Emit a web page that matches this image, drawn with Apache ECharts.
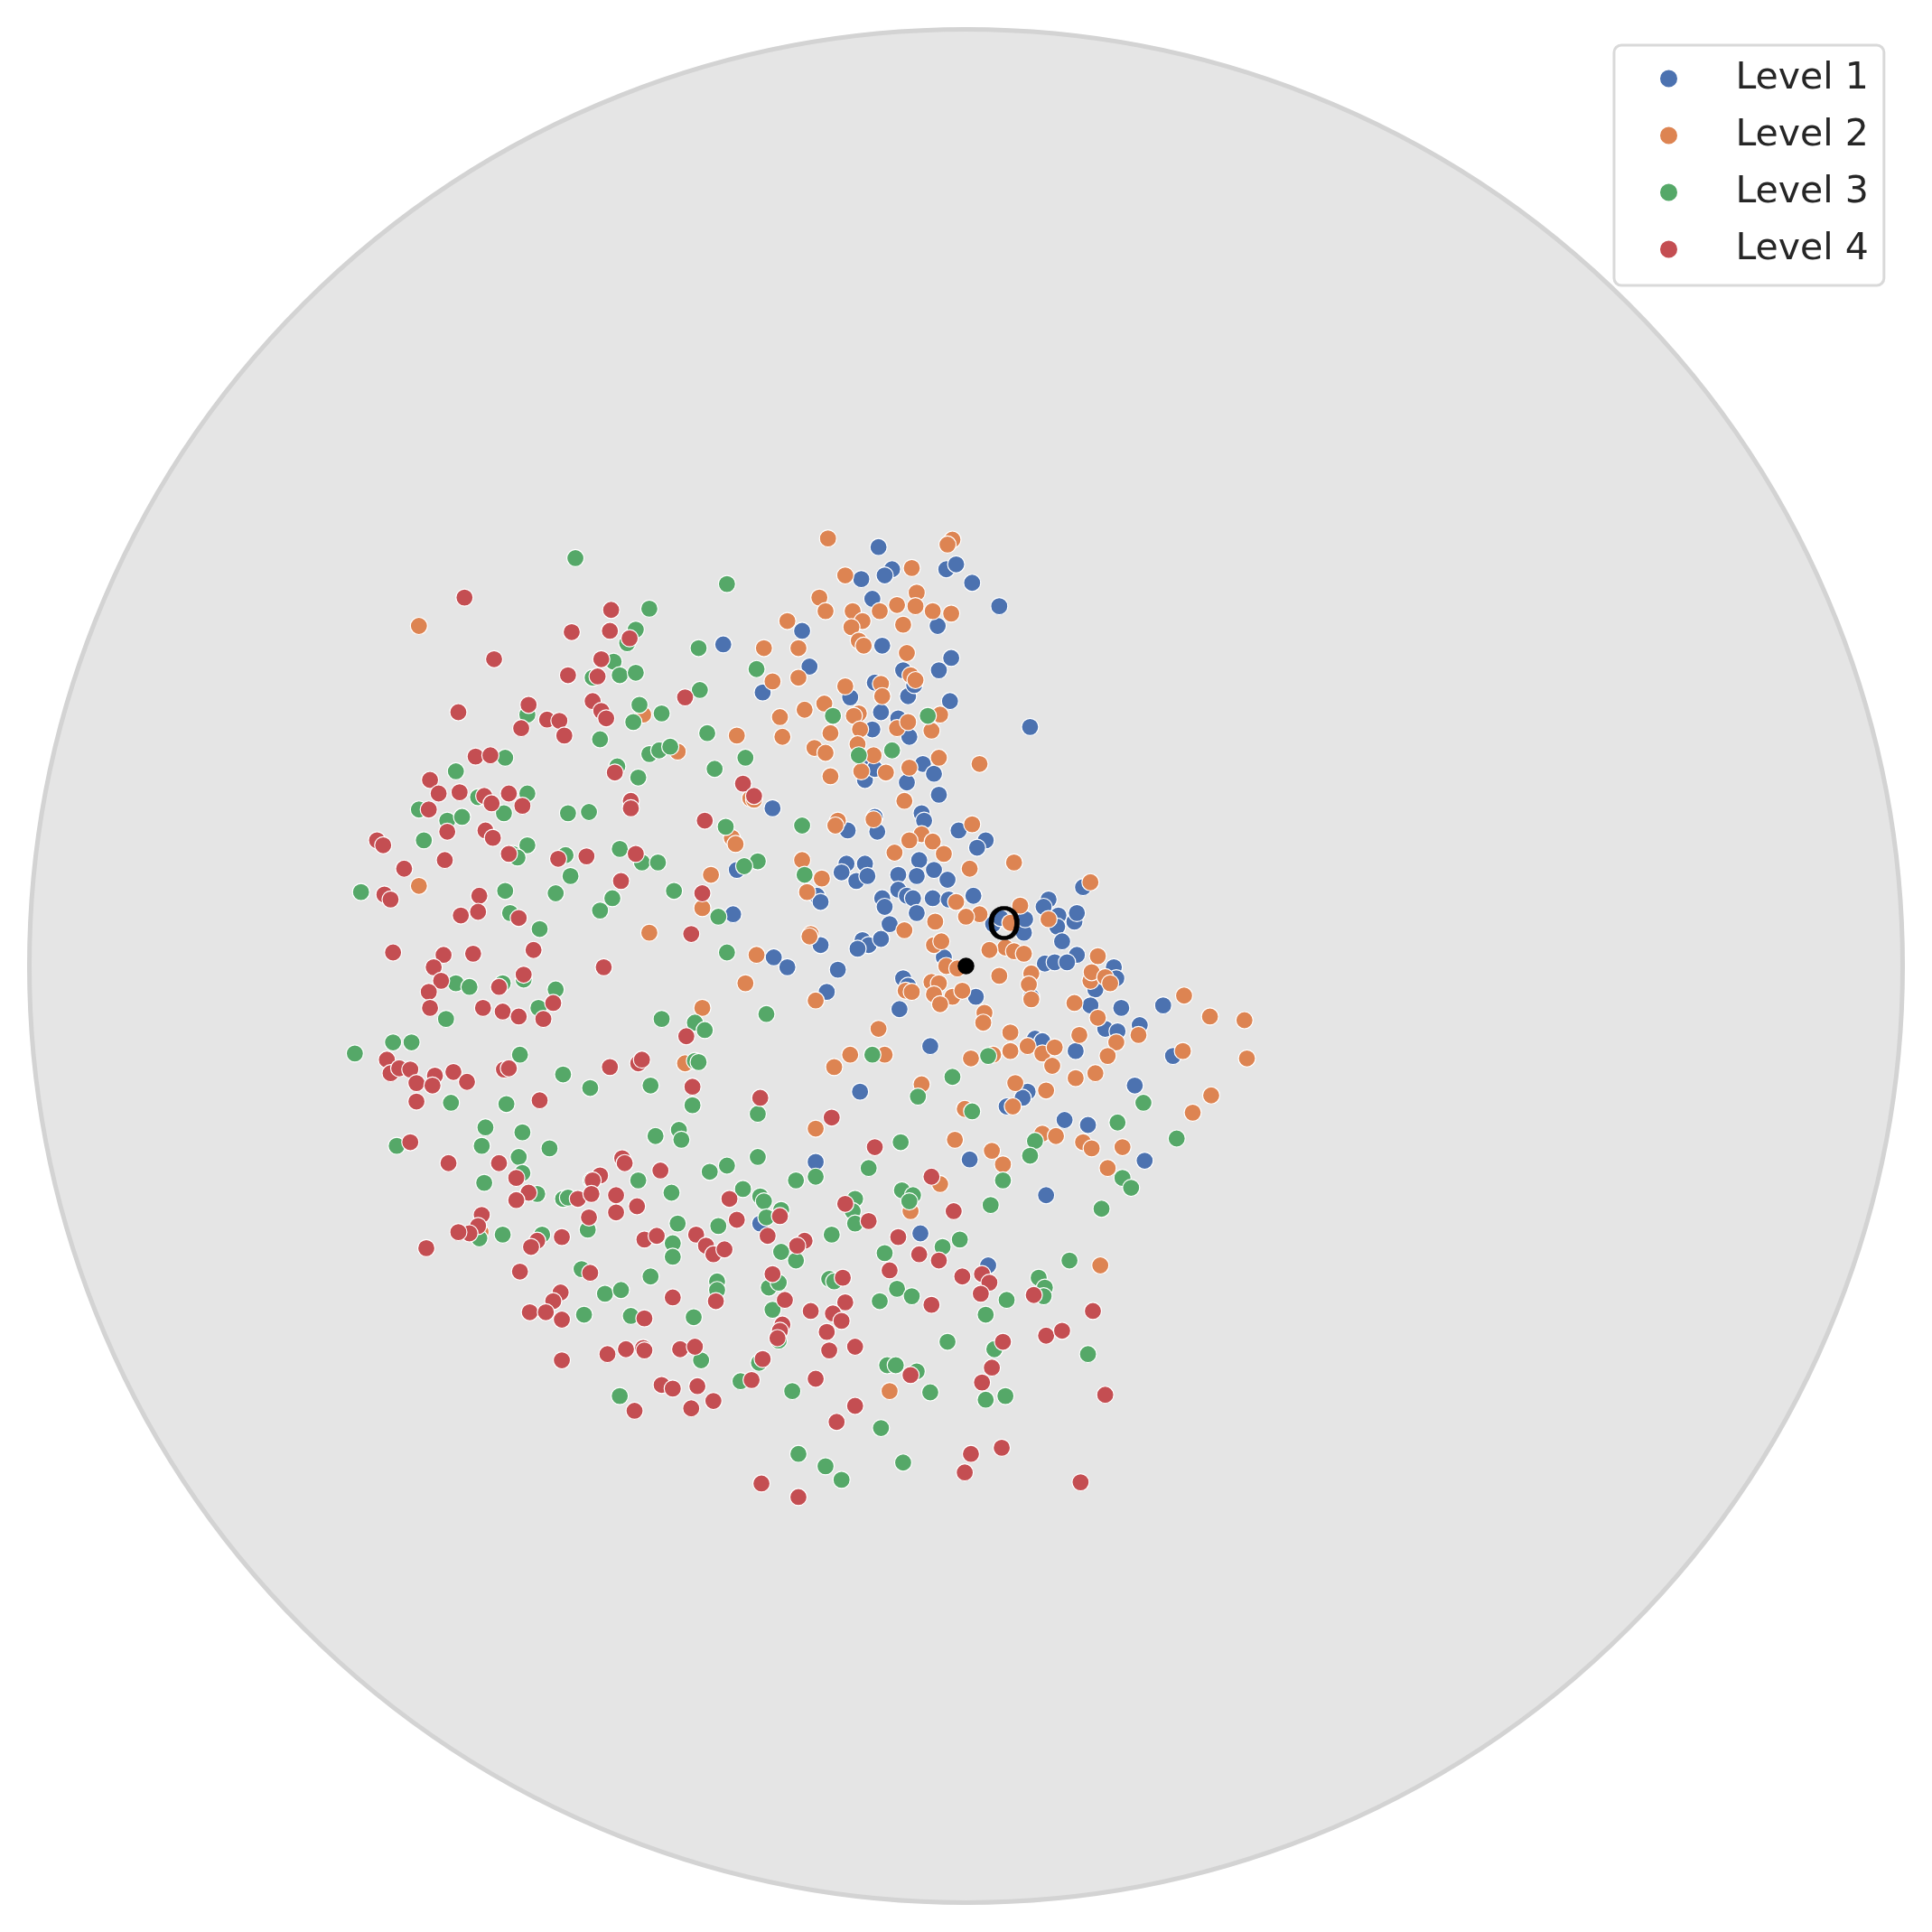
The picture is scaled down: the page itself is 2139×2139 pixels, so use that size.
<!DOCTYPE html>
<html><head><meta charset="utf-8">
<style>html,body{margin:0;padding:0;background:#fff}#c{width:2139px;height:2139px}</style>
<script src="https://cdn.jsdelivr.net/npm/echarts@6/dist/echarts.min.js"></script>
</head><body><div id="c"></div>
<script>
const levelNames = ['Level 1','Level 2','Level 3','Level 4'];
const levelColors = ['#4c72b0','#dd8452','#55a868','#c44e52'];
const level1 = [[713,444],[724,462],[718,467],[699,470],[768,462],[776,458],[789,473],[811,492],[708,486],[651,512],[761,508],[587,523],[716,524],[772,534],[762,544],[657,541],[733,544],[710,554],[619,562],[690,566],[737,565],[771,569],[742,556],[715,578],[729,583],[836,590],[708,592],[738,598],[749,620],[702,633],[736,635],[758,628],[704,622],[710,624],[762,645],[627,656],[748,660],[750,666],[710,663],[712,675],[688,674],[778,674],[800,682],[793,688],[687,701],[702,701],[683,708],[695,715],[704,711],[729,710],[746,698],[744,711],[758,706],[769,714],[598,706],[729,722],[736,727],[716,729],[741,729],[757,729],[770,730],[663,727],[666,732],[718,736],[744,741],[790,727],[595,742],[722,750],[700,763],[705,767],[715,762],[696,770],[666,767],[628,777],[639,785],[680,787],[671,805],[730,819],[733,794],[737,800],[766,777],[792,809],[755,849],[698,886],[851,730],[879,720],[847,736],[859,743],[872,748],[874,741],[858,752],[831,757],[832,746],[806,750],[812,745],[862,764],[874,775],[848,782],[856,781],[866,781],[904,785],[906,794],[889,803],[885,816],[910,818],[897,835],[907,837],[925,832],[944,816],[952,857],[873,853],[921,881],[840,843],[846,845],[837,809],[834,886],[830,891],[817,898],[864,909],[883,913],[787,941],[662,943],[929,942],[849,970],[617,993],[747,1001],[802,1027]];
const level2 = [[672,437],[773,438],[769,442],[686,467],[740,461],[665,485],[692,496],[670,496],[700,504],[691,509],[639,504],[714,496],[728,491],[744,481],[743,492],[757,496],[772,498],[733,507],[340,508],[620,526],[648,526],[697,520],[701,524],[736,530],[627,553],[648,550],[686,557],[739,548],[715,555],[743,552],[716,565],[669,571],[653,576],[697,579],[633,582],[693,581],[698,592],[728,591],[737,586],[763,580],[756,593],[674,595],[635,598],[598,597],[661,607],[670,611],[550,610],[696,604],[709,613],[762,615],[795,620],[738,623],[719,627],[699,626],[674,630],[734,650],[609,648],[612,649],[680,666],[709,665],[789,669],[678,670],[748,677],[738,682],[757,683],[594,680],[597,685],[726,692],[766,693],[651,698],[823,700],[787,705],[577,710],[667,713],[655,724],[340,719],[885,716],[570,737],[776,732],[828,735],[795,742],[784,744],[759,748],[851,746],[820,749],[527,757],[658,758],[657,760],[734,755],[816,769],[758,767],[764,764],[803,771],[823,772],[831,774],[891,776],[768,784],[777,786],[885,796],[886,789],[897,793],[901,798],[614,775],[605,798],[811,792],[837,790],[835,799],[837,811],[735,804],[740,805],[756,797],[762,798],[758,807],[773,809],[781,804],[763,815],[799,822],[798,830],[662,812],[872,814],[891,826],[961,808],[982,825],[1010,828],[570,818],[713,835],[820,838],[876,840],[906,846],[924,840],[690,856],[718,856],[677,866],[788,859],[806,856],[820,853],[834,849],[846,855],[856,850],[899,857],[960,853],[1012,859],[556,863],[854,865],[873,875],[889,871],[748,880],[824,879],[849,885],[983,889],[968,903],[783,900],[822,898],[662,916],[775,925],[846,920],[857,922],[879,927],[886,932],[911,931],[805,934],[814,945],[899,948],[763,961],[739,983],[390,1000],[893,1027],[722,1129],[522,580]];
const level3 = [[467,453],[590,474],[527,494],[516,511],[509,522],[567,526],[498,537],[503,548],[516,546],[614,543],[568,560],[481,550],[519,572],[428,580],[514,586],[537,579],[676,581],[753,581],[574,595],[487,600],[527,612],[535,609],[544,606],[605,615],[410,615],[580,624],[697,613],[724,609],[501,622],[518,631],[370,626],[388,647],[428,644],[340,657],[409,660],[461,660],[478,659],[363,666],[375,663],[589,671],[651,670],[344,682],[428,686],[416,693],[420,696],[503,689],[459,694],[521,700],[534,700],[615,699],[604,703],[463,711],[653,710],[293,724],[410,723],[451,725],[547,723],[497,729],[487,739],[414,741],[438,754],[583,744],[590,773],[370,798],[381,801],[408,798],[425,795],[451,803],[437,818],[362,827],[537,827],[564,830],[572,836],[622,823],[319,846],[334,846],[288,855],[422,856],[564,861],[567,862],[708,856],[802,857],[457,872],[479,883],[528,881],[366,895],[411,896],[773,874],[745,890],[789,902],[928,895],[907,911],[955,924],[394,915],[424,919],[322,930],[391,930],[446,932],[532,922],[551,917],[553,925],[562,897],[615,904],[731,927],[840,926],[836,938],[421,939],[424,952],[393,960],[457,973],[461,972],[480,958],[518,958],[545,968],[436,969],[576,951],[590,946],[615,939],[705,948],[646,958],[662,955],[603,965],[617,971],[620,975],[634,982],[622,988],[694,973],[692,983],[694,993],[732,966],[741,970],[738,975],[804,978],[814,958],[911,956],[918,964],[894,981],[550,993],[583,995],[546,1009],[477,998],[408,1002],[389,1005],[440,1002],[546,1020],[675,1002],[634,1016],[646,1023],[718,1017],[765,1012],[779,1006],[868,1023],[843,1037],[848,1045],[847,1052],[817,1055],[800,1067],[472,1030],[528,1036],[491,1050],[504,1047],[474,1067],[512,1068],[563,1069],[582,1040],[582,1047],[624,1045],[632,1041],[627,1063],[673,1038],[677,1040],[714,1056],[728,1046],[740,1052],[632,1088],[569,1104],[616,1106],[601,1121],[503,1133],[643,1129],[769,1089],[807,1095],[883,1099],[720,1108],[727,1108],[744,1113],[755,1130],[800,1136],[816,1133],[715,1159],[648,1180],[670,1190],[683,1201],[733,1187]];
const level4 = [[377,485],[496,495],[495,512],[464,513],[511,518],[401,535],[488,535],[461,548],[485,549],[556,566],[429,572],[372,578],[481,569],[488,577],[492,583],[444,584],[454,585],[423,591],[458,597],[386,614],[398,613],[499,627],[349,633],[603,636],[373,643],[356,644],[393,646],[413,644],[612,646],[348,657],[399,652],[424,654],[512,650],[512,656],[572,666],[363,675],[394,674],[400,680],[306,682],[311,686],[413,693],[361,698],[453,697],[476,695],[516,693],[328,705],[504,715],[312,726],[317,730],[570,725],[389,727],[374,743],[388,740],[421,745],[561,758],[319,773],[360,775],[384,774],[433,771],[352,785],[358,796],[490,785],[425,791],[405,801],[348,805],[349,818],[392,818],[408,821],[421,825],[449,814],[441,827],[557,841],[314,860],[317,871],[324,867],[333,868],[353,873],[368,870],[338,879],[351,881],[379,878],[409,868],[413,867],[495,866],[518,863],[521,860],[338,894],[438,893],[562,882],[617,891],[675,907],[333,927],[710,931],[364,944],[405,944],[505,940],[507,944],[536,950],[487,954],[481,958],[419,956],[756,955],[429,968],[419,974],[469,973],[480,969],[500,970],[500,984],[478,988],[517,979],[592,973],[686,977],[633,987],[598,990],[705,991],[774,983],[391,986],[388,995],[381,1001],[372,1000],[436,1007],[431,1012],[456,1004],[523,1006],[533,1003],[565,1002],[623,1003],[653,1007],[647,1011],[573,1011],[579,1018],[588,1014],[729,1004],[746,1018],[346,1013],[422,1032],[479,1033],[762,1023],[722,1031],[627,1034],[684,1037],[781,1036],[797,1034],[803,1041],[796,1050],[839,1051],[455,1049],[449,1056],[546,1053],[581,1056],[430,1065],[443,1065],[456,1071],[523,1070],[637,1055],[658,1064],[686,1057],[676,1066],[683,1072],[756,1059],[887,1064],[635,1075],[633,1080],[631,1086],[671,1081],[849,1084],[862,1080],[814,1089],[522,1094],[456,1104],[493,1099],[508,1095],[523,1096],[552,1095],[564,1093],[619,1103],[694,1093],[673,1096],[805,1110],[739,1116],[662,1119],[610,1120],[797,1122],[537,1124],[546,1127],[566,1125],[579,1137],[515,1145],[561,1143],[694,1141],[897,1132],[679,1154],[788,1180],[813,1175],[783,1195],[877,1203],[618,1204],[648,1215]];
const levels = [level1, level2, level3, level4];
const diskCenter = [[784,784]];
const originPoint = [[784,784]];
const labelPoint = [[815,752.5]];
const labelText = 'O';

const chart = echarts.init(document.getElementById('c'), null, {renderer:'canvas', width:2139, height:2139});
const series = [
  {name:'disk', type:'scatter', silent:true, z:1, data:diskCenter, symbol:'circle', symbolSize:2074,
   itemStyle:{color:'#e5e5e5', borderColor:'#d3d3d3', borderWidth:5, opacity:1}}
];
levelNames.forEach((n,i)=>series.push({
  name:n, type:'scatter', z:2+i, data:levels[i], symbol:'circle', symbolSize:19,
  itemStyle:{color:levelColors[i], borderColor:'#ffffff', borderWidth:1.2, opacity:1}
}));
series.push({name:'origin', type:'scatter', z:8, data:originPoint, symbol:'circle', symbolSize:18.5,
  itemStyle:{color:'#000000', opacity:1}});
series.push({name:'label', type:'scatter', z:9, data:labelPoint, symbol:'circle', symbolSize:1,
  itemStyle:{color:'rgba(0,0,0,0)', opacity:1},
  label:{show:true, position:'inside', formatter:labelText, fontFamily:'DejaVu Sans', fontSize:50, color:'#000', opacity:1, textBorderColor:'#000', textBorderWidth:0.6}});
chart.setOption({
  animation:false,
  backgroundColor:'#ffffff',
  grid:{left:0,right:0,top:0,bottom:0},
  xAxis:{type:'value',min:0,max:1568,show:false},
  yAxis:{type:'value',min:0,max:1568,inverse:true,show:false},
  legend:{
    data:levelNames, orient:'vertical', left:1787, top:50,
    backgroundColor:'#ffffff', borderColor:'#d9d9d9', borderWidth:3, borderRadius:8,
    padding:[11,17,14,49], itemWidth:60, itemHeight:21, itemGap:11, icon:'circle', align:'left',
    textStyle:{fontFamily:'DejaVu Sans', fontSize:41, color:'#262626', lineHeight:44, padding:[8,0,0,39]}
  },
  series
});
</script></body></html>
